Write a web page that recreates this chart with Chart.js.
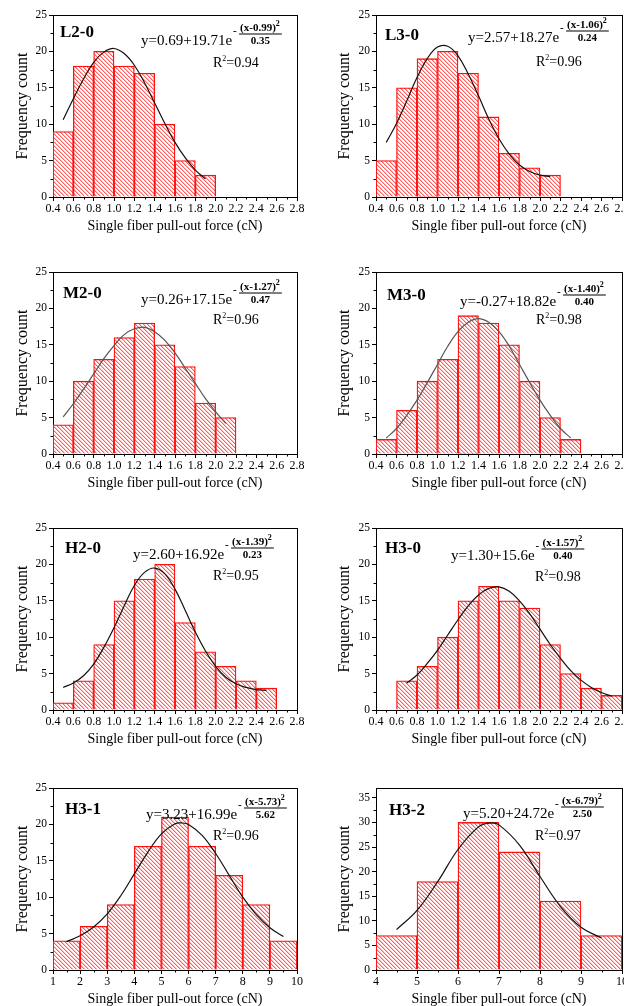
<!DOCTYPE html>
<html>
<head>
<meta charset="utf-8">
<script src="https://cdn.jsdelivr.net/npm/chart.js@4.4.0/dist/chart.umd.min.js"></script>
<style>
  html, body { margin: 0; padding: 0; background: #fff; width: 624px; height: 1006px; overflow: hidden; position: relative; }
  .panel { position: absolute; }
</style>
</head>
<body>
<script>
// ---- data ----
const narrowXTicks = [0.4, 0.6, 0.8, 1.0, 1.2, 1.4, 1.6, 1.8, 2.0, 2.2, 2.4, 2.6, 2.8];
const h31XTicks = [1, 2, 3, 4, 5, 6, 7, 8, 9, 10];
const h32XTicks = [4, 5, 6, 7, 8, 9, 10];
const countTicks25 = [0, 5, 10, 15, 20, 25];
const countTicks35 = [0, 5, 10, 15, 20, 25, 30, 35];

const l20Centers = [0.5, 0.7, 0.9, 1.1, 1.3, 1.5, 1.7, 1.9];
const l20Counts = [9, 18, 20, 18, 17, 10, 5, 3];
const l20FitX = [0.5, 0.6, 0.7, 0.8, 0.9, 1.0, 1.1, 1.2, 1.3, 1.4, 1.5, 1.6, 1.7, 1.8, 1.9];
const l20FitY = [10.6, 13.5, 16.2, 18.5, 19.9, 20.4, 19.7, 18.1, 15.7, 12.9, 10.1, 7.5, 5.4, 3.7, 2.5];

const l30Centers = [0.5, 0.7, 0.9, 1.1, 1.3, 1.5, 1.7, 1.9, 2.1];
const l30Counts = [5, 15, 19, 20, 17, 11, 6, 4, 3];
const l30FitX = [0.5, 0.6, 0.7, 0.8, 0.9, 1.0, 1.1, 1.2, 1.3, 1.4, 1.5, 1.6, 1.7, 1.8, 1.9, 2.0, 2.1];
const l30FitY = [7.5, 10.1, 13.2, 16.4, 19.0, 20.6, 20.7, 19.4, 16.9, 13.9, 10.7, 8.0, 5.9, 4.4, 3.5, 3.0, 2.8];

const m20Centers = [0.5, 0.7, 0.9, 1.1, 1.3, 1.5, 1.7, 1.9, 2.1];
const m20Counts = [4, 10, 13, 16, 18, 15, 12, 7, 5];
const m20FitX = [0.5, 0.6, 0.7, 0.8, 0.9, 1.0, 1.1, 1.2, 1.3, 1.4, 1.5, 1.6, 1.7, 1.8, 1.9, 2.0, 2.1];
const m20FitY = [5.1, 6.9, 8.9, 11.0, 13.1, 14.9, 16.4, 17.2, 17.4, 16.8, 15.6, 13.9, 11.8, 9.7, 7.6, 5.8, 4.2];

const m30Centers = [0.5, 0.7, 0.9, 1.1, 1.3, 1.5, 1.7, 1.9, 2.1, 2.3];
const m30Counts = [2, 6, 10, 13, 19, 18, 15, 10, 5, 2];
const m30FitX = [0.5, 0.6, 0.7, 0.8, 0.9, 1.0, 1.1, 1.2, 1.3, 1.4, 1.5, 1.6, 1.7, 1.8, 1.9, 2.0, 2.1, 2.2, 2.3];
const m30FitY = [2.2, 3.5, 5.3, 7.4, 9.8, 12.3, 14.8, 16.8, 18.1, 18.6, 18.1, 16.8, 14.8, 12.3, 9.8, 7.4, 5.3, 3.5, 2.2];

const h20Centers = [0.5, 0.7, 0.9, 1.1, 1.3, 1.5, 1.7, 1.9, 2.1, 2.3, 2.5];
const h20Counts = [1, 4, 9, 15, 18, 20, 12, 8, 6, 4, 3];
const h20FitX = [0.5, 0.6, 0.7, 0.8, 0.9, 1.0, 1.1, 1.2, 1.3, 1.4, 1.5, 1.6, 1.7, 1.8, 1.9, 2.0, 2.1, 2.2, 2.3, 2.4, 2.5];
const h20FitY = [3.1, 3.7, 4.7, 6.3, 8.6, 11.3, 14.3, 17.1, 18.9, 19.5, 18.7, 16.6, 13.7, 10.7, 8.1, 6.0, 4.5, 3.6, 3.1, 2.8, 2.7];

const h30Centers = [0.7, 0.9, 1.1, 1.3, 1.5, 1.7, 1.9, 2.1, 2.3, 2.5, 2.7];
const h30Counts = [4, 6, 10, 15, 17, 15, 14, 9, 5, 3, 2];
const h30FitX = [0.7, 0.8, 0.9, 1.0, 1.1, 1.2, 1.3, 1.4, 1.5, 1.6, 1.7, 1.8, 1.9, 2.0, 2.1, 2.2, 2.3, 2.4, 2.5, 2.6, 2.7];
const h30FitY = [3.7, 4.8, 6.4, 8.2, 10.3, 12.4, 14.3, 15.8, 16.7, 16.9, 16.3, 15.0, 13.2, 11.1, 9.0, 7.1, 5.4, 4.1, 3.1, 2.4, 1.9];

const h31Centers = [1.5, 2.5, 3.5, 4.5, 5.5, 6.5, 7.5, 8.5, 9.5];
const h31Counts = [4, 6, 9, 17, 21, 17, 13, 9, 4];
const h31FitX = [1.5, 2, 2.5, 3, 3.5, 4, 4.5, 5, 5.5, 5.75, 6, 6.5, 7, 7.5, 8, 8.5, 9, 9.5];
const h31FitY = [3.9, 4.7, 5.9, 7.7, 10.2, 13.2, 16.2, 18.7, 20.1, 20.2, 20.0, 18.5, 16.0, 13.0, 10.0, 7.6, 5.8, 4.6];

const h32Centers = [4.5, 5.5, 6.5, 7.5, 8.5, 9.5];
const h32Counts = [7, 18, 30, 24, 14, 7];
const h32FitX = [4.5, 5, 5.5, 6, 6.5, 6.8, 7, 7.5, 8, 8.5, 9, 9.5];
const h32FitY = [8.2, 12.1, 17.9, 24.5, 29.1, 29.9, 29.5, 25.4, 19.0, 12.9, 8.7, 6.5];

const panelLabels = ['L2-0', 'L3-0', 'M2-0', 'M3-0', 'H2-0', 'H3-0', 'H3-1', 'H3-2'];
const eqMains = ['y=0.69+19.71e', 'y=2.57+18.27e', 'y=0.26+17.15e', 'y=-0.27+18.82e',
                 'y=2.60+16.92e', 'y=1.30+15.6e', 'y=3.23+16.99e', 'y=5.20+24.72e'];
const eqNums = ['(x-0.99)', '(x-1.06)', '(x-1.27)', '(x-1.40)', '(x-1.39)', '(x-1.57)', '(x-5.73)', '(x-6.79)'];
const eqDens = ['0.35', '0.24', '0.47', '0.40', '0.23', '0.40', '5.62', '2.50'];
const rSquared = ['0.94', '0.96', '0.96', '0.98', '0.95', '0.98', '0.96', '0.97'];

// ---- layout ----
const SERIF = '"Liberation Serif", "Times New Roman", serif';
const rowTops = [0, 257, 513, 773];

const panels = [
  { centers: l20Centers, counts: l20Counts, fitX: l20FitX, fitY: l20FitY, xTicks: narrowXTicks, yTicks: countTicks25, yMax: 25, fit: '#111', row: 0, col: 0, labelAt: [7, 22], eqAt: [88, 30], r2At: [160, 52] },
  { centers: l30Centers, counts: l30Counts, fitX: l30FitX, fitY: l30FitY, xTicks: narrowXTicks, yTicks: countTicks25, yMax: 25, fit: '#111', row: 0, col: 1, labelAt: [9, 25], eqAt: [92, 27], r2At: [160, 51] },
  { centers: m20Centers, counts: m20Counts, fitX: m20FitX, fitY: m20FitY, xTicks: narrowXTicks, yTicks: countTicks25, yMax: 25, fit: '#555', row: 1, col: 0, labelAt: [10, 26], eqAt: [88, 32], r2At: [160, 52] },
  { centers: m30Centers, counts: m30Counts, fitX: m30FitX, fitY: m30FitY, xTicks: narrowXTicks, yTicks: countTicks25, yMax: 25, fit: '#555', row: 1, col: 1, labelAt: [11, 28], eqAt: [84, 34], r2At: [160, 52] },
  { centers: h20Centers, counts: h20Counts, fitX: h20FitX, fitY: h20FitY, xTicks: narrowXTicks, yTicks: countTicks25, yMax: 25, fit: '#111', row: 2, col: 0, labelAt: [12, 25], eqAt: [80, 31], r2At: [160, 52] },
  { centers: h30Centers, counts: h30Counts, fitX: h30FitX, fitY: h30FitY, xTicks: narrowXTicks, yTicks: countTicks25, yMax: 25, fit: '#111', row: 2, col: 1, labelAt: [9, 25], eqAt: [75, 32], r2At: [159, 53] },
  { centers: h31Centers, counts: h31Counts, fitX: h31FitX, fitY: h31FitY, xTicks: h31XTicks, yTicks: countTicks25, yMax: 25, fit: '#111', row: 3, col: 0, labelAt: [12, 26], eqAt: [93, 31], r2At: [160, 52] },
  { centers: h32Centers, counts: h32Counts, fitX: h32FitX, fitY: h32FitY, xTicks: h32XTicks, yTicks: countTicks35, yMax: 37, fit: '#111', row: 3, col: 1, labelAt: [13, 27], eqAt: [87, 30], r2At: [159, 52] }
];

// diagonal red hatching like the original bars
function makeHatch() {
  const c = document.createElement('canvas');
  c.width = 4; c.height = 4;
  const g = c.getContext('2d');
  g.fillStyle = '#fff';
  g.fillRect(0, 0, 4, 4);
  for (let i = 0; i < 4; i++) {
    g.fillStyle = 'rgba(255,40,40,0.75)';
    g.fillRect(i, i, 1, 1);
    g.fillStyle = 'rgba(255,90,90,0.4)';
    g.fillRect((i + 1) % 4, i, 1, 1);
  }
  return g.createPattern(c, 'repeat');
}

const minorTicks = {
  id: 'minorTicks',
  afterDraw(chart) {
    const {ctx, chartArea: a} = chart;
    const xs = chart.scales.x, ys = chart.scales.y;
    ctx.save();
    ctx.strokeStyle = '#000';
    ctx.lineWidth = 1;
    ctx.beginPath();
    for (let i = 1; i < xs.ticks.length; i++) {
      const px = Math.round(xs.getPixelForValue((xs.ticks[i].value + xs.ticks[i - 1].value) / 2)) + 0.5;
      ctx.moveTo(px, a.bottom);
      ctx.lineTo(px, a.bottom + 2.5);
    }
    for (let i = 1; i < ys.ticks.length; i++) {
      const py = Math.round(ys.getPixelForValue((ys.ticks[i].value + ys.ticks[i - 1].value) / 2)) + 0.5;
      ctx.moveTo(a.left, py);
      ctx.lineTo(a.left - 2.5, py);
    }
    ctx.stroke();
    ctx.restore();
  }
};

const panelText = {
  id: 'panelText',
  afterDraw(chart, args, o) {
    const {ctx, chartArea: a} = chart;
    ctx.save();
    ctx.fillStyle = '#000';
    ctx.textBaseline = 'alphabetic';
    ctx.textAlign = 'left';

    ctx.font = 'bold 17px ' + SERIF;
    ctx.fillText(o.label, a.left + o.labelAt[0], a.top + o.labelAt[1]);

    // equation with exponent fraction
    let x = a.left + o.eqAt[0];
    const b = a.top + o.eqAt[1];
    ctx.font = '15px ' + SERIF;
    ctx.fillText(o.eqMain, x, b);
    x += ctx.measureText(o.eqMain).width;
    ctx.font = 'bold 11px ' + SERIF;
    ctx.fillText('-', x + 1, b - 11);
    const fx = x + 7;
    const numW = ctx.measureText(o.eqNum).width;
    ctx.fillText(o.eqNum, fx + 1, b - 14);
    ctx.font = 'bold 8px ' + SERIF;
    ctx.fillText('2', fx + 1 + numW, b - 19);
    const barW = numW + 7;
    ctx.fillRect(fx, b - 11.5, barW, 1);
    ctx.font = 'bold 11px ' + SERIF;
    ctx.textAlign = 'center';
    ctx.fillText(o.eqDen, fx + barW / 2, b - 1.5);
    ctx.textAlign = 'left';

    // R^2
    let rx = a.left + o.r2At[0];
    const rb = a.top + o.r2At[1];
    ctx.font = '14px ' + SERIF;
    ctx.fillText('R', rx, rb);
    rx += ctx.measureText('R').width;
    ctx.font = '8px ' + SERIF;
    ctx.fillText('2', rx, rb - 6);
    rx += ctx.measureText('2').width;
    ctx.font = '14px ' + SERIF;
    ctx.fillText('=' + o.r2, rx, rb);
    ctx.restore();
  }
};

const hatch = makeHatch();

panels.forEach((p, k) => {
  const w = p.col ? 330 : 312;
  const div = document.createElement('div');
  div.className = 'panel';
  div.style.left = (p.col ? 312 : 0) + 'px';
  div.style.top = rowTops[p.row] + 'px';
  const cv = document.createElement('canvas');
  cv.width = w;
  cv.height = 250;
  cv.style.width = w + 'px';
  cv.style.height = '250px';
  div.appendChild(cv);
  document.body.appendChild(div);

  const xMin = p.xTicks[0], xMax = p.xTicks[p.xTicks.length - 1];
  const wideTicks = p.xTicks === narrowXTicks;

  new Chart(cv, {
    type: 'bar',
    data: {
      datasets: [
        {
          type: 'line',
          data: p.fitX.map((x, i) => ({x: x, y: p.fitY[i]})),
          borderColor: p.fit,
          borderWidth: 1.2,
          pointRadius: 0,
          tension: 0.4,
          fill: false
        },
        {
          type: 'bar',
          data: p.centers.map((x, i) => ({x: x, y: p.counts[i]})),
          backgroundColor: hatch,
          borderColor: '#ff1010',
          borderWidth: 1.3,
          barPercentage: 1,
          categoryPercentage: 1
        }
      ]
    },
    options: {
      responsive: false,
      animation: false,
      events: [],
      layout: { padding: { top: 15, right: p.col ? 20 : 15, left: 0, bottom: 0 } },
      plugins: {
        legend: { display: false },
        tooltip: { enabled: false },
        panelText: {
          label: panelLabels[k], eqMain: eqMains[k], eqNum: eqNums[k], eqDen: eqDens[k], r2: rSquared[k],
          labelAt: p.labelAt, eqAt: p.eqAt, r2At: p.r2At
        }
      },
      scales: {
        x: {
          type: 'linear',
          position: 'bottom',
          min: xMin,
          max: xMax,
          offset: false,
          afterBuildTicks: s => { s.ticks = p.xTicks.map(v => ({value: v})); },
          afterFit: s => { s.height = 53; },
          ticks: {
            color: '#000',
            padding: 1,
            maxRotation: 0,
            autoSkip: false,
            font: { family: SERIF, size: 12 },
            callback: v => wideTicks ? Number(v).toFixed(1) : String(v)
          },
          grid: { drawOnChartArea: false, offset: false, tickLength: 4, tickColor: '#000', tickWidth: 1 },
          border: { display: true, color: '#000', width: 1 },
          title: {
            display: true,
            text: 'Single fiber pull-out force (cN)',
            color: '#000',
            font: { family: SERIF, size: 14 },
            padding: { top: 0, bottom: 15 }
          }
        },
        y: {
          type: 'linear',
          position: 'left',
          min: 0,
          max: p.yMax,
          afterBuildTicks: s => { s.ticks = p.yTicks.map(v => ({value: v})); },
          afterFit: s => { s.width = p.col ? 64 : 53; },
          ticks: { color: '#000', padding: 2, font: { family: SERIF, size: 11.5 } },
          grid: { drawOnChartArea: false, tickLength: 4, tickColor: '#000', tickWidth: 1 },
          border: { display: true, color: '#000', width: 1 },
          title: {
            display: true,
            text: 'Frequency count',
            color: '#000',
            font: { family: SERIF, size: 16 },
            padding: { top: p.col ? 23 : 13, bottom: 0 }
          }
        },
        x2: {
          type: 'linear',
          position: 'top',
          min: 0, max: 1,
          ticks: { display: false },
          grid: { display: false },
          border: { display: true, color: '#000', width: 1 },
          afterFit: s => { s.height = 0; }
        },
        y2: {
          type: 'linear',
          position: 'right',
          min: 0, max: 1,
          ticks: { display: false },
          grid: { display: false },
          border: { display: true, color: '#000', width: 1 },
          afterFit: s => { s.width = 0; }
        }
      }
    },
    plugins: [minorTicks, panelText]
  });
});
</script>
</body>
</html>
